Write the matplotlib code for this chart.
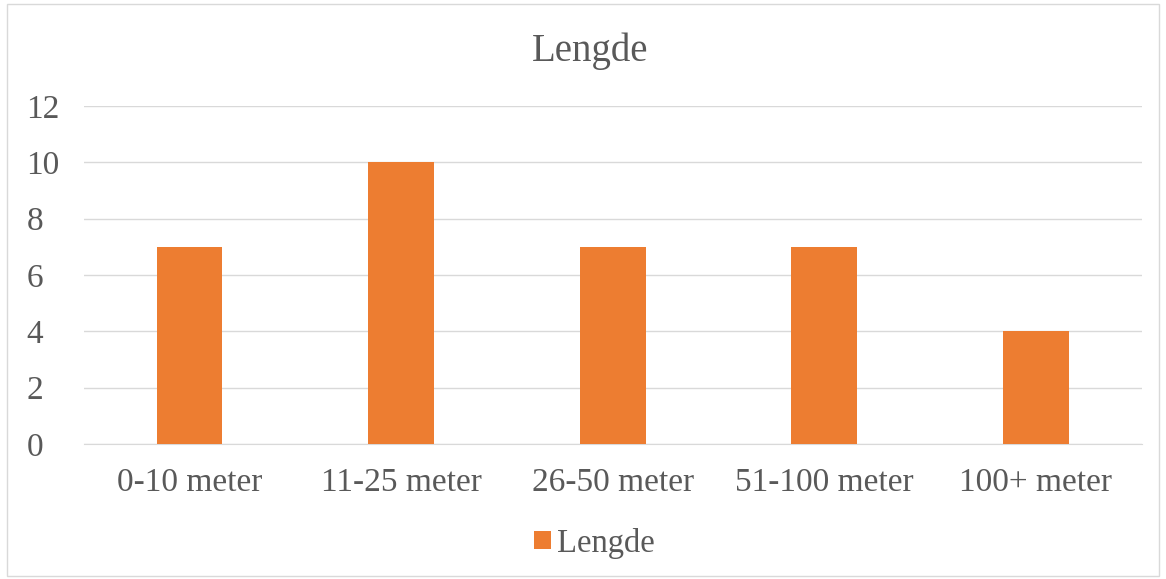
import matplotlib
matplotlib.use('Agg')
import matplotlib.pyplot as plt
from matplotlib.patches import Rectangle

# ── DATA ──
categories = ['0-10 meter', '11-25 meter', '26-50 meter', '51-100 meter', '100+ meter']
values = [7, 10, 7, 7, 4]
series_name = 'Lengde'

BAR_COLOR = '#ED7D31'
TEXT_COLOR = '#595959'
GRID_COLOR = '#D9D9D9'

plt.rcParams['font.family'] = ['Liberation Serif', 'DejaVu Serif']

fig = plt.figure(figsize=(11.66, 5.79), dpi=100)
ax = fig.add_axes([0.072, 0.2332, 0.907, 0.5837])

ax.bar(categories, values, width=0.31, color=BAR_COLOR, label=series_name, zorder=3)

ax.set_ylim(0, 12)
ax.set_yticks(range(0, 13, 2))
ax.set_xlim(-0.5, len(categories) - 0.5)
ax.grid(axis='y', color=GRID_COLOR, linewidth=1, zorder=0)
for side in ['top', 'right', 'left']:
    ax.spines[side].set_visible(False)
ax.spines['bottom'].set_color(GRID_COLOR)
ax.tick_params(axis='both', length=0, labelsize=24, colors=TEXT_COLOR)
ax.tick_params(axis='x', pad=17)
ax.tick_params(axis='y', pad=41.5)
for lbl in ax.get_yticklabels():
    lbl.set_horizontalalignment('left')

fig.text(0.506, 0.912, 'Lengde', fontsize=28, color=TEXT_COLOR, ha='center', va='center')

fig.legend(loc='center', bbox_to_anchor=(0.51, 0.062), frameon=False,
           fontsize=23.5, labelcolor=TEXT_COLOR, handlelength=0.5, handleheight=0.5,
           handletextpad=0.2)

# chart border
fig.patches.append(Rectangle((0.006, 0.005), 0.988, 0.988, transform=fig.transFigure,
                             fill=False, edgecolor=GRID_COLOR, linewidth=1))

fig.savefig('out.png', dpi=100)
